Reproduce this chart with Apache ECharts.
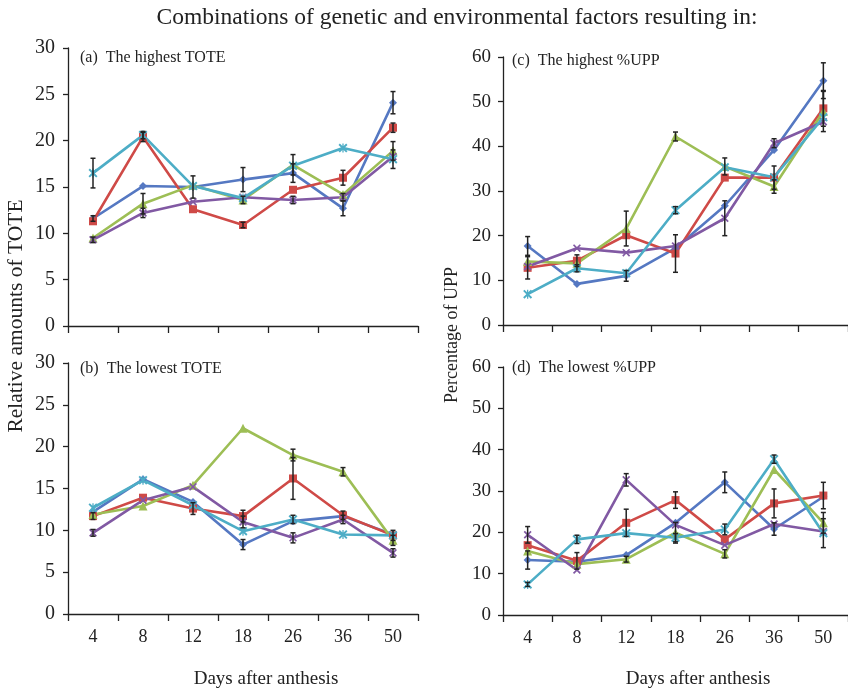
<!DOCTYPE html>
<html lang="en" style="height: 100%">
<head>
  <meta charset="utf-8">
</head>
<body style="height: 100%; margin: 0; background: #fff">
  <div id="container" style="width: 848px; height: 690px"></div>

  <script type="text/javascript" src="https://cdn.jsdelivr.net/npm/echarts@6/dist/echarts.min.js"></script>
  <script type="text/javascript">
    // days after anthesis
    var days = ['4', '8', '12', '18', '26', '36', '50'];

    // (a) the highest TOTE
    var aBlue   = [11.6, 15.1, 15.0, 15.8, 16.5, 12.7, 24.1];
    var aRed    = [11.3, 20.4, 12.6, 10.9, 14.7, 16.0, 21.4];
    var aGreen  = [9.5, 13.2, 15.2, 13.6, 17.4, 14.2, 18.9];
    var aPurple = [9.3, 12.2, 13.4, 13.9, 13.6, 13.9, 18.3];
    var aCyan   = [16.5, 20.6, 15.1, 13.8, 17.3, 19.2, 18.0];
    var aBlueErr   = [0.3, null, 1.2, 1.3, 1.0, 0.8, 1.2];
    var aRedErr    = [null, 0.5, null, 0.3, null, 0.8, 0.5];
    var aGreenErr  = [null, 1.1, null, 0.4, 1.1, null, 1.0];
    var aPurpleErr = [0.3, 0.5, null, null, 0.4, 0.4, null];
    var aCyanErr   = [1.6, 0.4, null, null, null, null, 1.0];

    // (b) the lowest TOTE
    var bBlue   = [12.2, 16.1, 13.4, 8.3, 11.1, 11.7, 9.5];
    var bRed    = [11.7, 13.9, 12.6, 11.7, 16.2, 11.8, 9.4];
    var bGreen  = [11.9, 12.9, 15.4, 22.2, 19.0, 17.0, 8.8];
    var bPurple = [9.7, 13.6, 15.2, 11.0, 9.1, 11.3, 7.3];
    var bCyan   = [12.7, 16.0, 13.0, 9.9, 11.3, 9.5, 9.4];
    var bBlueErr   = [null, null, null, 0.6, null, null, null];
    var bRedErr    = [0.4, null, 0.7, 0.7, 2.5, 0.5, 0.6];
    var bGreenErr  = [null, null, null, null, 0.7, 0.5, 0.6];
    var bPurpleErr = [0.4, null, null, 0.7, 0.6, 0.5, 0.5];
    var bCyanErr   = [null, null, null, null, 0.5, null, null];

    // (c) the highest %UPP
    var cBlue   = [17.7, 9.2, 11.0, 17.2, 26.7, 39.2, 54.7];
    var cRed    = [12.8, 14.4, 20.1, 16.0, 33.0, 33.0, 48.5];
    var cGreen  = [14.2, 13.8, 21.6, 42.2, 35.5, 31.0, 47.8];
    var cPurple = [13.1, 17.2, 16.2, 17.7, 23.9, 40.7, 45.5];
    var cCyan   = [6.9, 12.7, 11.6, 25.7, 35.3, 33.1, 46.5];
    var cBlueErr   = [2.1, null, 1.2, null, null, null, 4.0];
    var cRedErr    = [2.5, 1.3, null, 4.2, null, 2.6, 4.0];
    var cGreenErr  = [null, null, 3.9, 1.0, 1.9, 1.5, 4.5];
    var cPurpleErr = [null, null, null, null, 3.9, 1.0, null];
    var cCyanErr   = [null, 0.8, null, 0.8, null, null, null];

    // (d) the lowest %UPP
    var dBlue   = [13.3, 12.9, 14.5, 22.3, 32.1, 20.8, 28.6];
    var dRed    = [16.9, 13.1, 22.3, 27.8, 18.3, 27.0, 28.9];
    var dGreen  = [15.5, 12.3, 13.5, 19.9, 14.8, 35.2, 22.3];
    var dPurple = [19.4, 10.9, 32.7, 21.8, 16.9, 22.0, 20.2];
    var dCyan   = [7.4, 18.3, 19.8, 18.7, 20.7, 37.7, 19.8];
    var dBlueErr   = [2.2, null, null, null, 2.5, 1.5, null];
    var dRedErr    = [null, 2.0, 3.3, 2.0, null, 3.5, 3.2];
    var dGreenErr  = [null, null, 0.7, 2.5, 1.0, null, 2.5];
    var dPurpleErr = [2.0, null, 1.5, null, null, null, null];
    var dCyanErr   = [0.5, 1.0, null, 1.0, 1.3, 1.0, 3.5];

    var colors = ['#5578c2', '#cf4a47', '#9dbe55', '#8159a3', '#4dadc6'];
    var xMark = 'path://M0,1.5L1.5,0L5,3.5L8.5,0L10,1.5L6.5,5L10,8.5L8.5,10L5,6.5L1.5,10L0,8.5L3.5,5Z';
    var starMark = 'path://M0,1.5L1.5,0L4.3,2.8L4.3,0L5.7,0L5.7,2.8L8.5,0L10,1.5L6.5,5L10,8.5L8.5,10L5.7,7.2L5.7,10L4.3,10L4.3,7.2L1.5,10L0,8.5L3.5,5Z';
    var symbols = ['diamond', 'rect', 'triangle', xMark, starMark];
    var symbolSizes = [8, 8, 9, 8, 9];
    var serif = '"Liberation Serif", "DejaVu Serif", serif';

    var panels = [
      { vals: [aBlue, aRed, aGreen, aPurple, aCyan], errs: [aBlueErr, aRedErr, aGreenErr, aPurpleErr, aCyanErr] },
      { vals: [bBlue, bRed, bGreen, bPurple, bCyan], errs: [bBlueErr, bRedErr, bGreenErr, bPurpleErr, bCyanErr] },
      { vals: [cBlue, cRed, cGreen, cPurple, cCyan], errs: [cBlueErr, cRedErr, cGreenErr, cPurpleErr, cCyanErr] },
      { vals: [dBlue, dRed, dGreen, dPurple, dCyan], errs: [dBlueErr, dRedErr, dGreenErr, dPurpleErr, dCyanErr] }
    ];

    var dom = document.getElementById('container');
    var myChart = echarts.init(dom, null, { renderer: 'canvas' });

    function renderErr(params, api) {
      var i = api.value(0), v = api.value(1), e = api.value(2);
      var top = api.coord([i, v + e]);
      var bot = api.coord([i, v - e]);
      var w = 2.5;
      var st = { stroke: '#222', lineWidth: 1.5 };
      return {
        type: 'group',
        children: [
          { type: 'line', shape: { x1: top[0], y1: top[1], x2: bot[0], y2: bot[1] }, style: st },
          { type: 'line', shape: { x1: top[0] - w, y1: top[1], x2: top[0] + w, y2: top[1] }, style: st },
          { type: 'line', shape: { x1: bot[0] - w, y1: bot[1], x2: bot[0] + w, y2: bot[1] }, style: st }
        ]
      };
    }

    var grids = [
      { left: 68, top: 48, width: 350, height: 278 },
      { left: 68, top: 363, width: 350, height: 251 },
      { left: 503, top: 57, width: 350, height: 268 },
      { left: 503, top: 367, width: 350, height: 248 }
    ];

    var axisLine = { lineStyle: { color: '#222', width: 1.3 } };
    var xAxes = [], yAxes = [], series = [];
    panels.forEach(function (p, k) {
      var isUpp = k >= 2;
      var isBottom = k === 1 || k === 3;
      xAxes.push({
        type: 'category', gridIndex: k, data: days, boundaryGap: true,
        axisLine: axisLine,
        axisTick: { show: true, length: 7, lineStyle: { color: '#222', width: 1.3 } },
        axisLabel: { show: isBottom, margin: 14, color: '#222', fontSize: 18, fontFamily: serif },
        splitLine: { show: false }
      });
      yAxes.push({
        type: 'value', gridIndex: k, min: 0, max: isUpp ? 60 : 30, interval: isUpp ? 10 : 5,
        axisLine: Object.assign({ show: true }, axisLine),
        axisTick: { show: true, length: 5, lineStyle: { color: '#222', width: 1.3 } },
        axisLabel: { margin: isUpp ? 12 : 13, color: '#222', fontSize: isUpp ? 19 : 20, fontFamily: serif },
        splitLine: { show: false }
      });
      p.vals.forEach(function (vals, s) {
        series.push({
          type: 'line', xAxisIndex: k, yAxisIndex: k, data: vals,
          symbol: symbols[s], symbolSize: symbolSizes[s], showAllSymbol: true,
          lineStyle: { color: colors[s], width: 2.6 },
          itemStyle: { color: colors[s] },
          animation: false, z: 2
        });
      });
      p.errs.forEach(function (errs, s) {
        var d = [];
        errs.forEach(function (e, i) {
          if (e != null) d.push([i, p.vals[s][i], e]);
        });
        series.push({
          type: 'custom', xAxisIndex: k, yAxisIndex: k, data: d,
          encode: { x: 0, y: 1 }, renderItem: renderErr, animation: false, z: 3
        });
      });
    });

    function label(text, left, top, size, align) {
      return {
        text: text, left: left, top: top, padding: 0, textAlign: align || 'left',
        textStyle: { fontSize: size, fontWeight: 'normal', color: '#222', fontFamily: serif }
      };
    }

    var option = {
      backgroundColor: '#fff',
      animation: false,
      textStyle: { fontFamily: serif },
      title: [
        label('Combinations of genetic and environmental factors resulting in:', 457, 6, 23.5, 'center'),
        label('(a)  The highest TOTE', 80, 50, 16),
        label('(b)  The lowest TOTE', 80, 361, 16),
        label('(c)  The highest %UPP', 512, 53, 16),
        label('(d)  The lowest %UPP', 512, 360, 16),
        label('Days after anthesis', 266, 670, 19, 'center'),
        label('Days after anthesis', 698, 670, 19, 'center')
      ],
      graphic: [
        { type: 'text', x: 16, y: 316, rotation: Math.PI / 2,
          style: { text: 'Relative amounts of TOTE', textAlign: 'center', textVerticalAlign: 'middle', font: '21.5px ' + serif, fill: '#222' } },
        { type: 'text', x: 452, y: 335, rotation: Math.PI / 2,
          style: { text: 'Percentage of UPP', textAlign: 'center', textVerticalAlign: 'middle', font: '18px ' + serif, fill: '#222' } }
      ],
      grid: grids,
      xAxis: xAxes,
      yAxis: yAxes,
      series: series
    };

    myChart.setOption(option);
    window.addEventListener('resize', myChart.resize);
  </script>
</body>
</html>
